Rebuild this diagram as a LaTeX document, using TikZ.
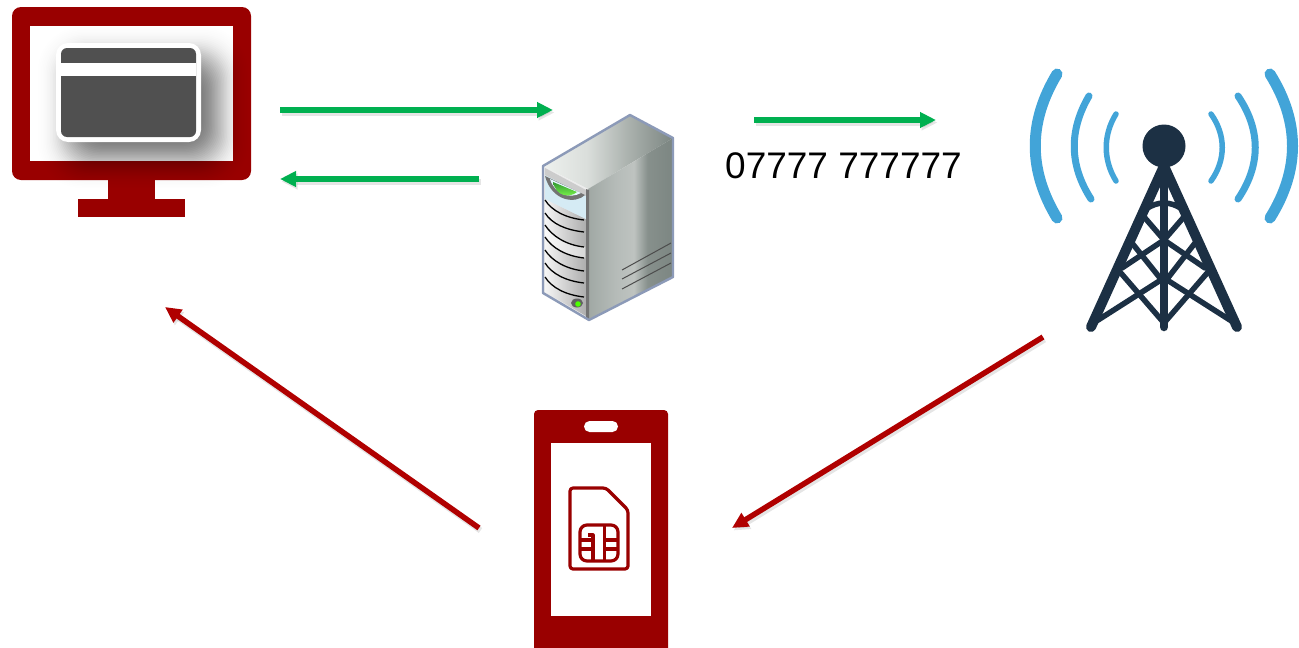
\documentclass[tikz,border=0pt]{standalone}
\usepackage{fontspec}
\setmainfont{Liberation Sans}
\usetikzlibrary{arrows.meta}
\definecolor{mred}{HTML}{990000}
\definecolor{ared}{HTML}{B00000}
\definecolor{agreen}{HTML}{00B050}
\definecolor{cardgrey}{HTML}{505050}
\definecolor{twr}{HTML}{1C3044}
\definecolor{wave}{HTML}{42A4D8}
\definecolor{srvedge}{HTML}{8C9AB8}
\pgfdeclarehorizontalshading{srvface}{100bp}{color(0bp)=(rgb,255:red,160;green,168;blue,164);color(25bp)=(rgb,255:red,160;green,168;blue,164);color(42bp)=(rgb,255:red,182;green,188;blue,185);color(52bp)=(rgb,255:red,190;green,195;blue,192);color(60bp)=(rgb,255:red,135;green,144;blue,140);color(75bp)=(rgb,255:red,124;green,134;blue,130);color(100bp)=(rgb,255:red,124;green,134;blue,130)}
\pgfdeclarehorizontalshading{srvtop}{100bp}{color(0bp)=(rgb,255:red,238;green,241;blue,238);color(25bp)=(rgb,255:red,238;green,241;blue,238);color(42bp)=(rgb,255:red,218;green,222;blue,219);color(58bp)=(rgb,255:red,170;green,177;blue,173);color(75bp)=(rgb,255:red,124;green,134;blue,130);color(100bp)=(rgb,255:red,124;green,134;blue,130)}
\tikzset{
 flow/.style={line width=5.5pt,-{Triangle[length=16pt,width=15pt]},
   preaction={draw=black,opacity=.1,line width=6pt,transform canvas={shift={(1.5pt,-2.5pt)}}}},
 gflow/.style={flow,draw=agreen},
 rflow/.style={flow,draw=ared},
 leg/.style={draw=twr,line width=10pt,line cap=round},
 brace/.style={draw=twr,line width=5.5pt,line cap=round},
 wavearc/.style={draw=wave,line cap=round},
 simline/.style={draw=mred,line width=3.2pt,line join=round},
 slot/.style={draw=black,line width=1.3pt},
 vent/.style={draw=black!70,line width=1pt},
 lbl/.style={font=\fontsize{37pt}{40pt}\selectfont,inner sep=0pt,text=black}
}
\begin{document}
\begin{tikzpicture}[x=1pt,y=-1pt]
\useasboundingbox (0,0) rectangle (1299,648);
\fill[white] (0,0) rectangle (1299,648);
% monitor
\fill[mred,rounded corners=9pt] (12,7) rectangle (251,180);
\fill[mred] (108,180) rectangle (155,199);
\fill[mred] (78,199) rectangle (185,217);
\fill[white] (30,26) rectangle (233,161);
% card shadow
\foreach \g in {42,40.5,...,-42}{
  \pgfmathsetmacro{\r}{6+(\g+42)*0.5}
  \pgfmathsetmacro{\o}{0.032*exp(-(\g/20)*(\g/20))}
  \fill[black,opacity=\o,rounded corners=\r pt] (71-\g,60-\g) rectangle (215+\g,155+\g);
}
\fill[white,rounded corners=12pt] (56,43) rectangle (201,142);
\fill[cardgrey,rounded corners=6pt] (61,48) rectangle (196,137);
\fill[white] (61,63) rectangle (196,76);
% server
\shade[shading=srvtop] (543,166) -- (630,115) -- (673,138) -- (588,189) -- cycle;
\shade[shading=srvface] (588,189) -- (673,138) -- (673,277) -- (589,320) -- cycle;
\fill[white!85!gray] (543,166) -- (588,189) -- (589,320) -- (543,293) -- cycle;
\shade[left color=white!92!gray,right color=black!32!white] (545,199) -- (586,219) -- (586,316) -- (545,292) -- cycle;
\fill[white!86!cyan!96!black] (545,174) -- (586,194) -- (586,219) -- (545,199) -- cycle;
\fill[black!20!white] (545,168) -- (586,190) -- (586,196) -- (545,175) -- cycle;
\fill[black!55!white] (586,189) -- (589,190) -- (589,320) -- (586,318) -- cycle;
% lens
\fill[black!55!white] (545,176) -- (585,195) .. controls (576,204) and (552,202) .. (545,176) -- cycle;
\fill[white!90!cyan] (550,179) -- (581,193) .. controls (570,199) and (555,195) .. (550,179) -- cycle;
\shade[top color=green!50!black!80!white,bottom color=green!70!yellow!70!white] (553,182) -- (577,192) .. controls (570,198) and (556,197) .. (553,182) -- cycle;
% band tints
\fill[white,opacity=.5] (545,225) .. controls (552,236) and (566,245) .. (585,247) -- (585,258) .. controls (566,256) and (552,248) .. (545,237) -- cycle;
\foreach \a/\b in {200/220,213/232,225/247,237/258,250/271,263/283,277/297}{
  \draw[slot] (545,\a) .. controls (552,\a+11) and (566,\b-2) .. (584,\b);
}
\fill[black!62!white] (577,303) ellipse (6pt and 4.5pt);
\fill[green!70!yellow] (578,304) circle (2.8pt);
\draw[vent] (622,270) -- (671,243);
\draw[vent] (622,279) -- (671,253);
\draw[vent] (622,289) -- (671,263);
\draw[srvedge,line width=2.4pt,line join=round] (543,166) -- (630,115) -- (673,138) -- (673,277) -- (589,320) -- (543,293) -- cycle;
% tower
\fill[twr] (1164,146) circle (21.5pt);
\draw[leg] (1164,166) -- (1091,327);
\draw[leg] (1164,166) -- (1237,327);
\draw[leg,line width=8.5pt] (1164,166) -- (1164,327);
\draw[brace] (1146,209) .. controls (1152,205) and (1158,203) .. (1164,203) .. controls (1170,203) and (1176,205) .. (1182,209);
\draw[brace] (1145,218) -- (1164,240) -- (1183,218);
\draw[brace] (1122,268) -- (1164,240) -- (1205,268);
\draw[brace] (1132,243) -- (1164,283) -- (1195,243);
\draw[brace] (1120,272) -- (1164,323) -- (1208,272);
\draw[brace] (1095,322) -- (1164,278) -- (1233,322);
\draw[wavearc,line width=11pt] (1057,74) .. controls (1028,122) and (1028,170) .. (1057,218);
\draw[wavearc,line width=7pt] (1089,96) .. controls (1069,130) and (1069,165) .. (1091,199);
\draw[wavearc,line width=5.5pt] (1116,114) .. controls (1103,135) and (1103,160) .. (1116,181);
\draw[wavearc,line width=11pt] (1270,74) .. controls (1300,122) and (1300,170) .. (1270,218);
\draw[wavearc,line width=7pt] (1238,96) .. controls (1261,130) and (1261,165) .. (1238,199);
\draw[wavearc,line width=5.5pt] (1211,114) .. controls (1226,135) and (1226,160) .. (1211,181);
% phone
\fill[mred,rounded corners=4pt] (534,410) rectangle (668,660);
\fill[white] (551,443) rectangle (651,616);
\fill[white,rounded corners=5.5pt] (584,421) rectangle (618,432);
\draw[simline,rounded corners=3pt] (570,488) -- (606,488) -- (628,510) -- (628,569) -- (570,569) -- cycle;
\draw[simline,rounded corners=7pt] (580,525) rectangle (618,561);
\draw[simline] (588,535) -- (593,535) -- (593,561);
\draw[simline] (604.500,525) -- (604.500,561);
\draw[simline] (580,540) -- (593,540);
\draw[simline] (580,549) -- (593,549);
\draw[simline] (604.500,540) -- (618,540);
\draw[simline] (604.500,549) -- (618,549);
% label
\node[lbl,anchor=base west] (num) at (725,178) {07777 777777};
% connectors
\coordinate (mr1) at (280,110); \coordinate (sl1) at (553,110);
\coordinate (sl2) at (479,179); \coordinate (mr2) at (280,179);
\coordinate (sr) at (754,120); \coordinate (tl) at (936,120);
\coordinate (tb) at (1043,337); \coordinate (pr) at (732,528);
\coordinate (pl) at (479,528); \coordinate (mb) at (165,307);
\draw[gflow] (mr1) -- (sl1);
\draw[gflow] (sl2) -- (mr2);
\draw[gflow] (sr) -- (tl);
\draw[rflow] (tb) -- (pr);
\draw[rflow] (pl) -- (mb);
\end{tikzpicture}
\end{document}
